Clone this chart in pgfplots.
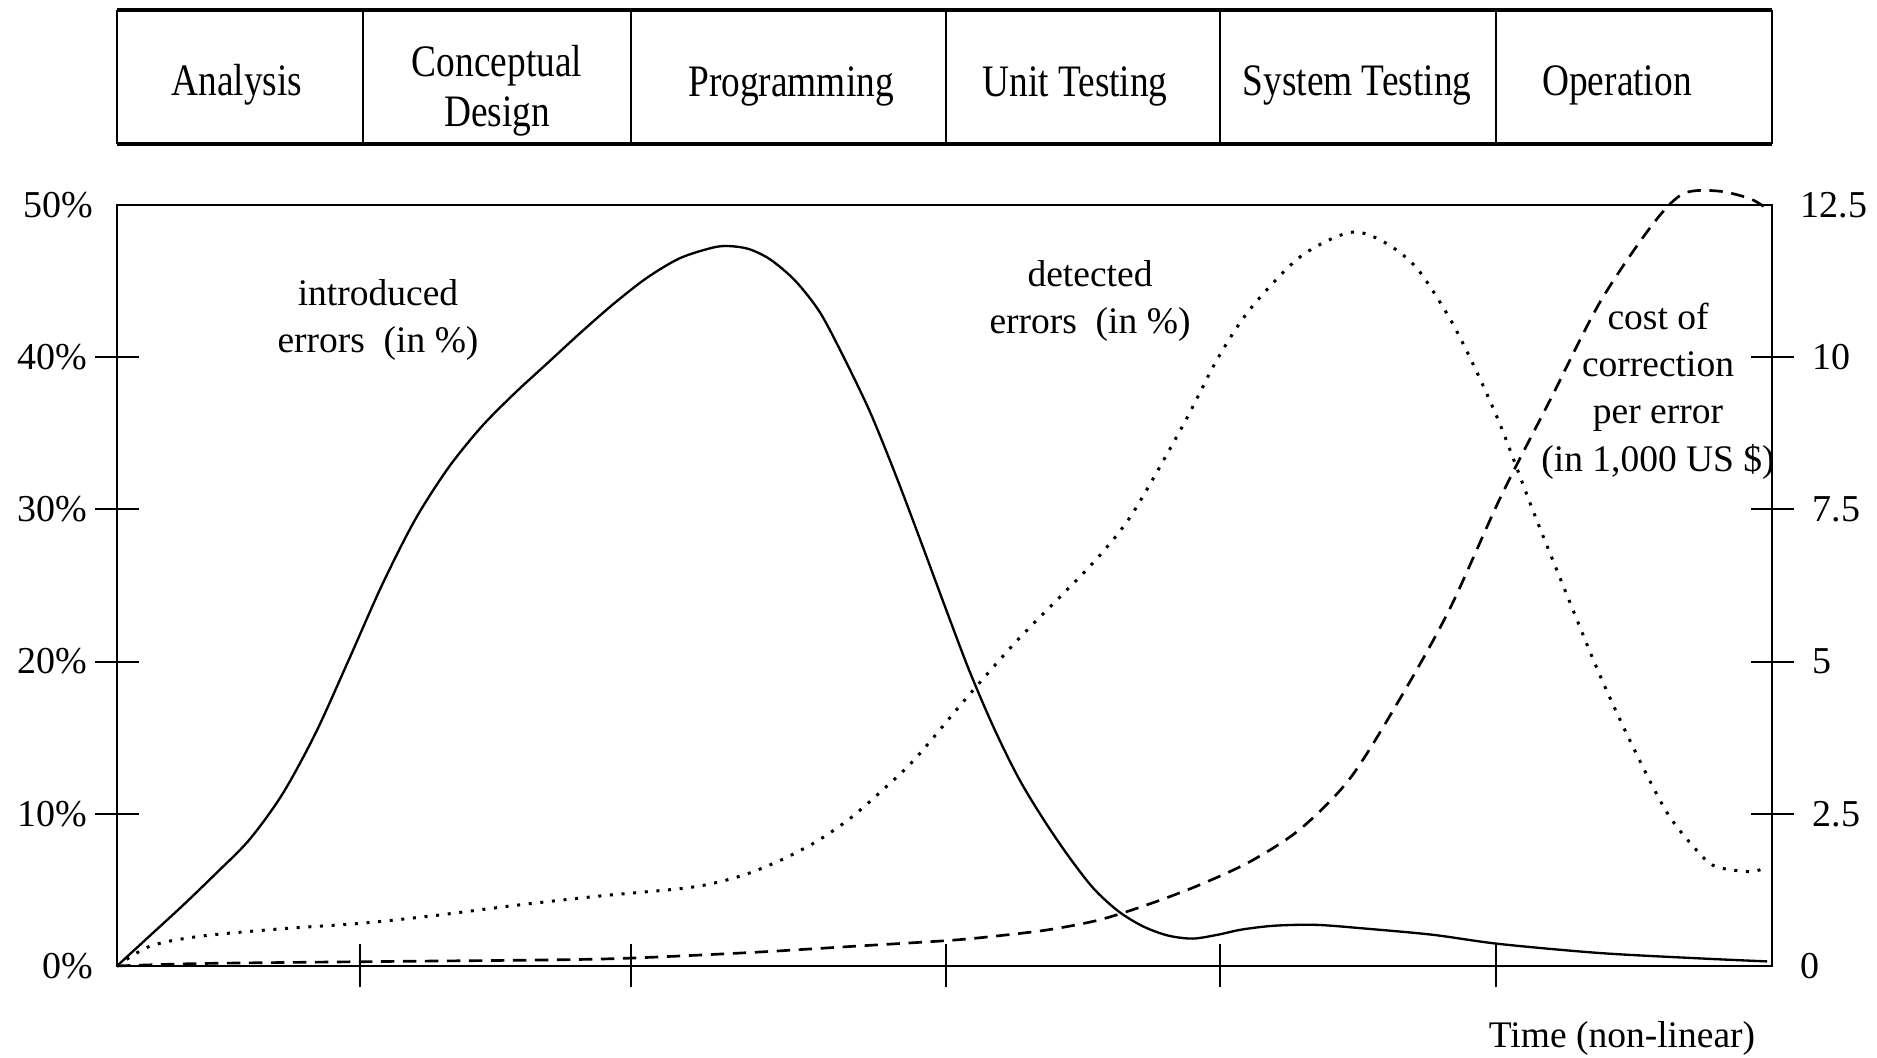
\documentclass[border=0pt]{standalone}
\usepackage{fontspec}
\setmainfont{Liberation Serif}
\newfontfamily\condfont{Liberation Serif}[FakeStretch=0.83]
\usepackage{pgfplots}
\usepackage{pgfplotstable}
\pgfplotsset{compat=1.18}

\pgfplotstableread{
x y
0 0
2.0 2.0
4.0 4.0
6.0 6.1
8.0 8.3
10.0 11.3
12.0 15.3
14.0 20.1
16.0 25.0
18.0 29.3
20.0 32.7
22.0 35.4
24.0 37.6
26.0 39.6
28.0 41.6
30.0 43.5
32.0 45.2
34.0 46.5
36.0 47.2
37.0 47.3
38.2 47.1
39.5 46.4
41.0 45.0
42.5 42.9
44.0 39.8
45.5 36.4
47.0 32.4
48.5 28.1
50.0 23.7
51.5 19.4
53.0 15.6
54.5 12.3
56.0 9.6
57.5 7.2
59.0 5.1
60.5 3.6
62.0 2.6
63.5 2.0
65.0 1.8
66.5 2.05
68.0 2.4
70.0 2.65
72.5 2.7
75.5 2.45
79.5 2.05
83.5 1.45
89.6 0.85
95.6 0.5
99.7 0.3
}\introduced

\pgfplotstableread{
x y
0 0
2.0 1.3
5.0 1.95
10.0 2.45
14.7 2.8
19.1 3.3
24.2 4.0
29.2 4.6
34.2 5.1
36.3 5.5
38.2 6.1
40.2 7.0
42.3 8.2
44.3 9.7
46.3 11.6
48.3 13.7
51.4 17.7
54.4 21.4
57.3 24.6
59.4 27.0
61.4 29.8
64.4 35.5
66.5 39.9
68.5 43.2
71.5 46.6
74.5 48.2
76.5 47.6
78.5 45.9
80.5 42.6
82.0 39.4
83.6 35.5
85.6 29.8
87.6 24.4
89.6 19.1
91.6 14.4
93.7 10.0
95.7 7.3
96.7 6.5
98.7 6.2
99.7 6.5
}\detected

\pgfplotstableread{
x y
0 0
5.0 0.04
14.7 0.07
26.2 0.1
31.1 0.13
38.2 0.22
44.3 0.32
50.3 0.42
53.4 0.5
56.4 0.6
59.4 0.76
62.4 1.02
65.4 1.33
68.5 1.72
71.5 2.25
74.5 3.08
77.5 4.38
80.5 5.85
83.6 7.7
86.6 9.3
89.6 10.9
92.7 12.15
94.6 12.68
96.7 12.73
98.7 12.6
99.9 12.4
}\cost

\begin{document}
\begin{tikzpicture}
\begin{scope}[x=0.3pt,y=0.3pt]
% phase table
\draw[line width=1.1pt] (117,1048) -- (1772,1048);
\draw[line width=1.1pt] (117,914) -- (1772,914);
\foreach \xx in {117,363,631,946,1220,1496,1772} \draw[line width=0.6pt] (\xx,1048) -- (\xx,914);
\begin{scope}[every node/.style={font=\condfont\fontsize{13.5}{16}\selectfont, anchor=base, inner sep=0pt}]
\node at (237,962) {Analysis};
\node at (497,981) {Conceptual};
\node at (497,931) {Design};
\node at (791,961) {Programming};
\node at (1075,961) {Unit Testing};
\node at (1357,962) {System Testing};
\node at (1617,962) {Operation};
\end{scope}
\end{scope}

\begin{axis}[
  at={(35.1pt,27.6pt)}, anchor=south west,
  width=496.5pt, height=228.3pt, scale only axis,
  xmin=0, xmax=100, ymin=0, ymax=50,
  clip=false,
  axis line style={line width=0.8pt},
  xtick={14.7,31.06,50.09,66.65,83.32}, xticklabels={},
  xtick pos=left, ytick pos=left,
  ytick={10,20,30,40},
  yticklabels={10\%,20\%,30\%,40\%},
  extra y ticks={0,50},
  extra y tick labels={0\%,50\%},
  extra y tick style={major tick length=0pt, yticklabel style={xshift=-4.65pt}},
  tick align=center,
  major tick length=12.9pt,
  minor tick num=0,
  tick style={black, line width=0.6pt},
  yticklabel style={font=\fontsize{11.4}{13}\selectfont, xshift=0.95pt},
]
\addplot[black, line width=0.7pt, smooth] table[x=x,y=y] {\introduced};
\addplot[black, line width=0.9pt, smooth, dash pattern=on 0.9pt off 2.6pt] table[x=x,y=y] {\detected};
\end{axis}

\begin{axis}[
  at={(35.1pt,27.6pt)}, anchor=south west,
  width=496.5pt, height=228.3pt, scale only axis,
  xmin=0, xmax=100, ymin=0, ymax=12.5,
  clip=false,
  axis x line=none, axis y line*=right,
  axis line style={line width=0.8pt},
  ytick={2.5,5,7.5,10},
  yticklabels={2.5,5,7.5,10},
  extra y ticks={0,12.5},
  extra y tick labels={0,12.5},
  extra y tick style={major tick length=0pt, yticklabel style={xshift=2.85pt}},
  tick align=center,
  major tick length=12.9pt,
  minor tick num=0,
  tick style={black, line width=0.6pt},
  yticklabel style={font=\fontsize{11.4}{13}\selectfont, xshift=2.25pt},
]
\addplot[black, line width=0.8pt, smooth, dash pattern=on 4pt off 2.6pt] table[x=x,y=y] {\cost};
\end{axis}

\begin{scope}[x=0.3pt,y=0.3pt, every node/.style={font=\fontsize{11.25}{14.2}\selectfont, align=center, inner sep=0pt}]
\node at (378,738) {introduced\\errors\ \ (in \%)};
\node at (1090,757) {detected\\errors\ \ (in \%)};
\node at (1658,667) {cost of\\correction\\per error\\(in 1,000 US \$)};
\node at (1622,19) {Time (non-linear)};
\end{scope}
\pgfresetboundingbox
\path[use as bounding box] (0pt,0pt) rectangle (563.1pt,317.4pt);
\end{tikzpicture}
\end{document}
